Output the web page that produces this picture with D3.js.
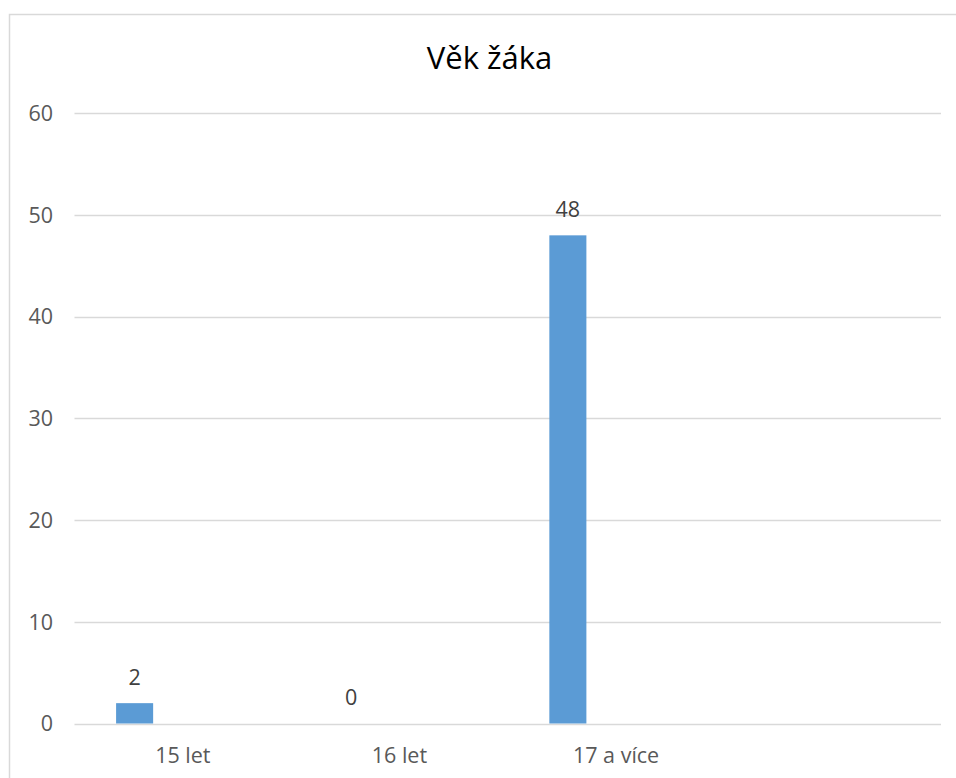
<!DOCTYPE html>
<html>
<head>
<meta charset="utf-8">
<script src="https://cdn.jsdelivr.net/npm/d3@7"></script>
<style>
  html, body { margin: 0; padding: 0; background: #fff; }
  svg { display: block; }
</style>
</head>
<body>
<svg id="chart" width="956" height="778"></svg>
<script>
const title = "Věk žáka";
const categories = ["15 let", "16 let", "17 a více", ""];
const values = [2, 0, 48, null];
const yTicks = [0, 10, 20, 30, 40, 50, 60];

const svg = d3.select("#chart");
const W = 956, H = 778;
const margin = { left: 74.5, right: 15, top: 113.3, bottom: 54.5 };
const font = "Open Sans, sans-serif";

// outer border
svg.append("rect")
  .attr("x", 9.5).attr("y", 14.5)
  .attr("width", W + 20).attr("height", H + 20)
  .attr("fill", "#fff").attr("stroke", "#d9d9d9").attr("stroke-width", 1.5);

const x = d3.scaleBand().domain(categories.map((c, i) => i)).range([margin.left, W - margin.right]).padding(0);
const y = d3.scaleLinear().domain([0, 60]).range([H - margin.bottom, margin.top]);

// gridlines
svg.append("g").selectAll("line").data(yTicks).join("line")
  .attr("x1", margin.left).attr("x2", W - margin.right)
  .attr("y1", d => Math.round(y(d)) + 0.5).attr("y2", d => Math.round(y(d)) + 0.5)
  .attr("stroke", "#d9d9d9").attr("stroke-width", 1.3);

// y tick labels
svg.append("g").selectAll("text").data(yTicks).join("text")
  .attr("x", 53).attr("y", d => y(d))
  .attr("dy", "0.36em")
  .attr("text-anchor", "end")
  .attr("font-family", font).attr("font-size", 21.5)
  .attr("fill", "#595959")
  .text(d => d);

// bars
const barOffset = 0.192, barWidth = 0.171;
const data = categories.map((c, i) => ({ i, c, v: values[i] })).filter(d => d.v !== null);
svg.append("g").selectAll("rect").data(data).join("rect")
  .attr("x", d => x(d.i) + x.bandwidth() * barOffset)
  .attr("width", x.bandwidth() * barWidth)
  .attr("y", d => y(d.v))
  .attr("height", d => y(0) - y(d.v))
  .attr("fill", "#5b9bd5");

// value labels
svg.append("g").selectAll("text").data(data).join("text")
  .attr("x", d => x(d.i) + x.bandwidth() * (barOffset + barWidth / 2))
  .attr("y", d => y(d.v) - 18.5)
  .attr("text-anchor", "middle")
  .attr("font-family", font).attr("font-size", 21.5)
  .attr("fill", "#404040")
  .text(d => d.v);

// category labels
svg.append("g").selectAll("text").data(categories).join("text")
  .attr("x", (d, i) => x(i) + x.bandwidth() / 2)
  .attr("y", 763)
  .attr("text-anchor", "middle")
  .attr("font-family", font).attr("font-size", 21.5)
  .attr("fill", "#595959")
  .text(d => d);

// title
svg.append("text")
  .attr("x", 489.5).attr("y", 69)
  .attr("text-anchor", "middle")
  .attr("font-family", font).attr("font-size", 31)
  .attr("fill", "#000")
  .text(title);
</script>
</body>
</html>
